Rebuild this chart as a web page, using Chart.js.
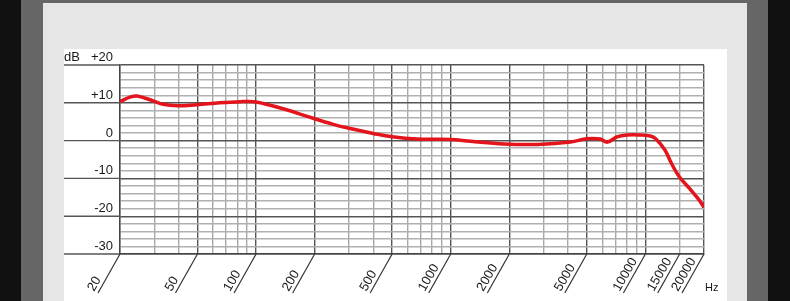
<!DOCTYPE html>
<html><head><meta charset="utf-8">
<script src="https://cdn.jsdelivr.net/npm/chart.js@4"></script>
<style>
html,body{margin:0;padding:0;width:790px;height:301px;overflow:hidden;background:#111;}
#dark{position:absolute;left:21px;top:0;width:747px;height:301px;background:#666;}
#light{position:absolute;left:43px;top:3px;width:704px;height:298px;background:#e6e6e6;}
#white{position:absolute;left:64px;top:49px;width:663px;height:252px;background:#fff;}
#c{position:absolute;left:0;top:0;}
</style></head><body>
<div id="dark"></div><div id="light"></div><div id="white"></div>
<canvas id="c" width="790" height="301"></canvas>
<script>
// Frequency response (Hz) and level (dB)
const freqs  = [20, 22.5, 24.5, 29.6, 33.3, 39.3, 49.6, 65, 83, 97, 109, 145, 183, 249, 305, 400, 500, 670, 1000, 1265, 1880, 2790, 4130, 5000, 5870, 6380, 7150, 8050, 9370, 10600, 11300, 12600, 13600, 14900, 16800, 18600, 20000];
const levels = [10.3, 11.5, 11.8, 10.5, 9.6, 9.2, 9.5, 10.0, 10.3, 10.3, 9.8, 8.1, 6.4, 4.3, 3.2, 1.9, 1.0, 0.4, 0.3, -0.2, -0.9, -1.0, -0.4, 0.5, 0.4, -0.4, 1.0, 1.5, 1.5, 1.2, 0.5, -2.5, -6.0, -9.5, -12.6, -15.3, -17.6];

const xGridValues = [20,30,40,50,60,70,80,90,100,200,300,400,500,600,700,800,900,1000,2000,3000,4000,5000,6000,7000,8000,9000,10000,15000,20000];
const xMajorValues = [20,50,100,200,500,1000,2000,5000,10000,20000];
const xTickValues = [20,50,100,200,500,1000,2000,5000,10000,15000,20000];
const xTickLabels = ['20','50','100','200','500','1000','2000','5000','10000','15000','20000'];
const yTickValues = [20,10,0,-10,-20,-30];
const yTickLabels = ['+20','+10','0','-10','-20','-30'];
const yUnit = 'dB';
const xUnit = 'Hz';

const labelPlugin = {
  id: 'labels',
  afterDraw(chart) {
    const ctx = chart.ctx, xs = chart.scales.x, ys = chart.scales.y;
    const ca = chart.chartArea;
    ctx.save();
    // major horizontal lines extended to the left
    ctx.strokeStyle = '#555'; ctx.lineWidth = 1.4;
    yTickValues.forEach(v => {
      const y = ys.getPixelForValue(v);
      ctx.beginPath(); ctx.moveTo(64, y); ctx.lineTo(ca.left, y); ctx.stroke();
    });
    ctx.fillStyle = '#1a1a1a';
    ctx.font = '13px "Liberation Sans", Arial, sans-serif';
    ctx.textAlign = 'right'; ctx.textBaseline = 'alphabetic';
    yTickValues.forEach((v, i) => {
      const y = ys.getPixelForValue(v);
      ctx.fillText(yTickLabels[i], 113, y - 4);
    });
    ctx.textAlign = 'left';
    ctx.fillText(yUnit, 64, ys.getPixelForValue(20) - 4);
    // x labels with slanted leaders
    ctx.strokeStyle = '#333'; ctx.lineWidth = 1.2;
    xTickValues.forEach((v, i) => {
      const x = xs.getPixelForValue(v);
      const y0 = ca.bottom;
      ctx.beginPath(); ctx.moveTo(x, y0); ctx.lineTo(x - 22, y0 + 39); ctx.stroke();
      ctx.save();
      ctx.translate(x - 26, y0 + 38);
      ctx.rotate(-60 * Math.PI / 180);
      ctx.textAlign = 'left'; ctx.textBaseline = 'alphabetic';
      ctx.fillText(xTickLabels[i], 0, 0);
      ctx.restore();
    });
    ctx.font = '11px "Liberation Sans", Arial, sans-serif';
    ctx.fillText(xUnit, 705, 291);
    ctx.restore();
  }
};

new Chart(document.getElementById('c'), {
  type: 'scatter',
  data: {
    datasets: [{
      data: freqs.map((f, i) => ({x: f, y: levels[i]})),
      showLine: true,
      borderColor: '#e3141b',
      borderWidth: 3.5,
      pointRadius: 0,
      tension: 0.4,
      fill: false
    }]
  },
  options: {
    responsive: false,
    animation: false,
    devicePixelRatio: 1,
    layout: { padding: { left: 120, top: 65, right: 86, bottom: 47 } },
    plugins: { legend: { display: false }, tooltip: { enabled: false } },
    scales: {
      x: {
        type: 'logarithmic', min: 20, max: 20000,
        afterBuildTicks: s => { s.ticks = xGridValues.map(v => ({value: v})); },
        ticks: { display: false },
        grid: {
          drawTicks: false,
          color: c => xMajorValues.includes(c.tick && c.tick.value) ? '#555' : '#a8a8a8',
          lineWidth: 1.4
        },
        border: { color: '#444', width: 1.4 }
      },
      y: {
        min: -30, max: 20,
        afterBuildTicks: s => { const t = []; for (let v = -30; v <= 20; v += 2) t.push({value: v}); s.ticks = t; },
        ticks: { display: false },
        grid: {
          drawTicks: false,
          color: c => (c.tick && c.tick.value % 10 === 0) ? '#555' : '#b0b0b0',
          lineWidth: 1.4
        },
        border: { color: '#444', width: 1.4 }
      }
    }
  },
  plugins: [labelPlugin]
});
</script>
</body></html>
